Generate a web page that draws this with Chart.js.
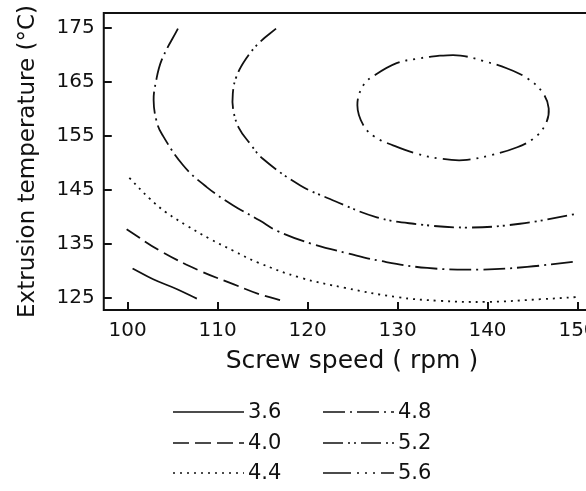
<!DOCTYPE html>
<html>
<head>
<meta charset="utf-8">
<script src="https://cdn.jsdelivr.net/npm/chart.js@4"></script>
<style>
  html, body { margin: 0; padding: 0; background: #fff; overflow: hidden; }
</style>
</head>
<body>
<canvas id="contours" width="620" height="491"></canvas>
<script>
// axis ticks
var xTicks = [100, 110, 120, 130, 140, 150];
var yTicks = [125, 135, 145, 155, 165, 175];

// contour levels
var levels = ["3.6", "4.0", "4.4", "4.8", "5.2", "5.6"];

// contour lines: screw speed (rpm) / extrusion temperature (C)
var c36x = [100.56, 102.85, 105.45, 107.7];
var c36y = [130.4, 128.4, 126.6, 124.8];

var c40x = [99.9, 103.6, 108.0, 111.75, 114.7, 117.5];
var c40y = [137.7, 133.7, 130.0, 127.5, 125.6, 124.3];

var c44x = [100.2, 102.5, 104.3, 106.6, 109.15, 111.75, 114.5, 119.2, 124.2, 129.9, 134.7, 139.9, 145.9, 149.9];
var c44y = [147.2, 143.3, 140.8, 138.35, 135.9, 133.7, 131.5, 128.7, 126.8, 125.1, 124.4, 124.2, 124.7, 125.1];

var c48x = [105.6, 103.8, 103.15, 102.9, 103.2, 103.8, 106.2, 108.8, 111.75, 114.7, 116.6, 120.6, 124.5, 128.1, 133.3, 139.2, 144.4, 149.75];
var c48y = [174.9, 169.1, 165.0, 161.6, 157.9, 155.4, 149.5, 145.5, 142.1, 139.3, 137.4, 134.9, 133.2, 131.8, 130.5, 130.2, 130.7, 131.7];

var c52x = [116.5, 114.7, 113.2, 112.1, 111.7, 111.75, 112.4, 113.6, 115.0, 119.2, 122.5, 127.7, 131.8, 137.7, 143.6, 149.75];
var c52y = [174.9, 172.4, 169.4, 166.0, 162.9, 159.8, 156.4, 153.6, 150.8, 145.8, 143.3, 139.9, 138.7, 138.0, 138.7, 140.5];

// closed loop, starting and ending near the top
var c56x = [134.7, 137.0, 139.55, 142.2, 144.4, 146.05, 146.8, 146.4, 145.1, 143.3, 140.3, 137.3, 134.7, 132.1, 129.5, 127.5, 126.2, 125.54, 126.2, 127.5, 129.9, 132.1, 134.7];
var c56y = [169.9, 169.9, 168.9, 167.5, 165.7, 163.2, 160.1, 157.0, 154.5, 152.9, 151.4, 150.5, 150.8, 151.7, 153.25, 154.8, 157.0, 160.7, 164.4, 166.3, 168.5, 169.3, 169.9];

var lineX = [c36x, c40x, c44x, c48x, c52x, c56x];
var lineY = [c36y, c40y, c44y, c48y, c52y, c56y];

var dashes = [
    [],
    [16, 6],
    [2, 5],
    [22, 5, 2, 5],
    [20, 5, 2, 4, 2, 5],
    [28, 6, 2, 6, 2, 6, 2, 6]
];

var ink = "#111";
var face = "'DejaVu Sans', sans-serif";

function toPoints(xs, ys) {
    var pts = [];
    for (var i = 0; i < xs.length; i++) {
        pts.push({x: xs[i], y: ys[i]});
    }
    return pts;
}

var datasets = [];
for (var i = 0; i < levels.length; i++) {
    datasets.push({
        label: levels[i],
        data: toPoints(lineX[i], lineY[i]),
        showLine: true,
        borderColor: ink,
        borderWidth: 1.8,
        borderDash: dashes[i],
        borderCapStyle: "butt",
        pointRadius: 0,
        tension: 0.4,
        fill: false
    });
}

// frame, inward tick marks and the line key under the plot
var frame = {
    id: "frame",
    afterDatasetsDraw: function(chart) {
        var ctx = chart.ctx;
        var a = chart.chartArea;
        var sx = chart.scales.x, sy = chart.scales.y;
        ctx.save();
        ctx.strokeStyle = ink;
        ctx.lineWidth = 2;
        ctx.setLineDash([]);
        ctx.strokeRect(a.left, a.top, a.right - a.left, a.bottom - a.top);
        ctx.beginPath();
        xTicks.forEach(function(v) {
            var p = Math.round(sx.getPixelForValue(v));
            ctx.moveTo(p, a.bottom);
            ctx.lineTo(p, a.bottom - 8);
        });
        yTicks.forEach(function(v) {
            var p = Math.round(sy.getPixelForValue(v));
            ctx.moveTo(a.left, p);
            ctx.lineTo(a.left + 8, p);
        });
        ctx.stroke();

        var colX = [173, 323];
        var rowY = [412, 443, 473];
        ctx.font = "21px " + face;
        ctx.fillStyle = ink;
        ctx.textBaseline = "middle";
        ctx.textAlign = "left";
        ctx.lineWidth = 1.6;
        chart.data.datasets.forEach(function(ds, k) {
            var x0 = colX[Math.floor(k / 3)];
            var y0 = rowY[k % 3];
            ctx.setLineDash(ds.borderDash);
            ctx.beginPath();
            ctx.moveTo(x0, y0);
            ctx.lineTo(x0 + 71, y0);
            ctx.stroke();
            ctx.fillText(ds.label, x0 + 75, y0 + 1);
        });
        ctx.restore();
    }
};

new Chart(document.getElementById("contours"), {
    type: "scatter",
    data: { datasets: datasets },
    options: {
        responsive: false,
        animation: false,
        layout: { padding: { left: 0, top: 13, right: 20, bottom: 117 } },
        plugins: {
            legend: { display: false },
            tooltip: { enabled: false }
        },
        scales: {
            x: {
                type: "linear",
                min: 97.36,
                max: 152.5,
                grid: { display: false, drawTicks: false },
                border: { display: false },
                afterBuildTicks: function(s) {
                    s.ticks = xTicks.map(function(v) { return {value: v}; });
                },
                ticks: { padding: 9, color: ink, font: { family: face, size: 20 } },
                title: {
                    display: true,
                    text: "Screw speed ( rpm )",
                    color: ink,
                    font: { family: face, size: 25, lineHeight: 1 },
                    padding: { top: -3, bottom: 0 }
                }
            },
            y: {
                type: "linear",
                min: 122.7,
                max: 177.8,
                grid: { display: false, drawTicks: false },
                border: { display: false },
                afterBuildTicks: function(s) {
                    s.ticks = yTicks.map(function(v) { return {value: v}; });
                },
                ticks: { padding: 9, color: ink, font: { family: face, size: 20, lineHeight: 0.4 } },
                title: {
                    display: true,
                    text: "Extrusion temperature (°C)",
                    color: ink,
                    font: { family: face, size: 23 },
                    padding: { top: 14, bottom: 6 }
                }
            }
        }
    },
    plugins: [frame]
});
</script>
</body>
</html>
